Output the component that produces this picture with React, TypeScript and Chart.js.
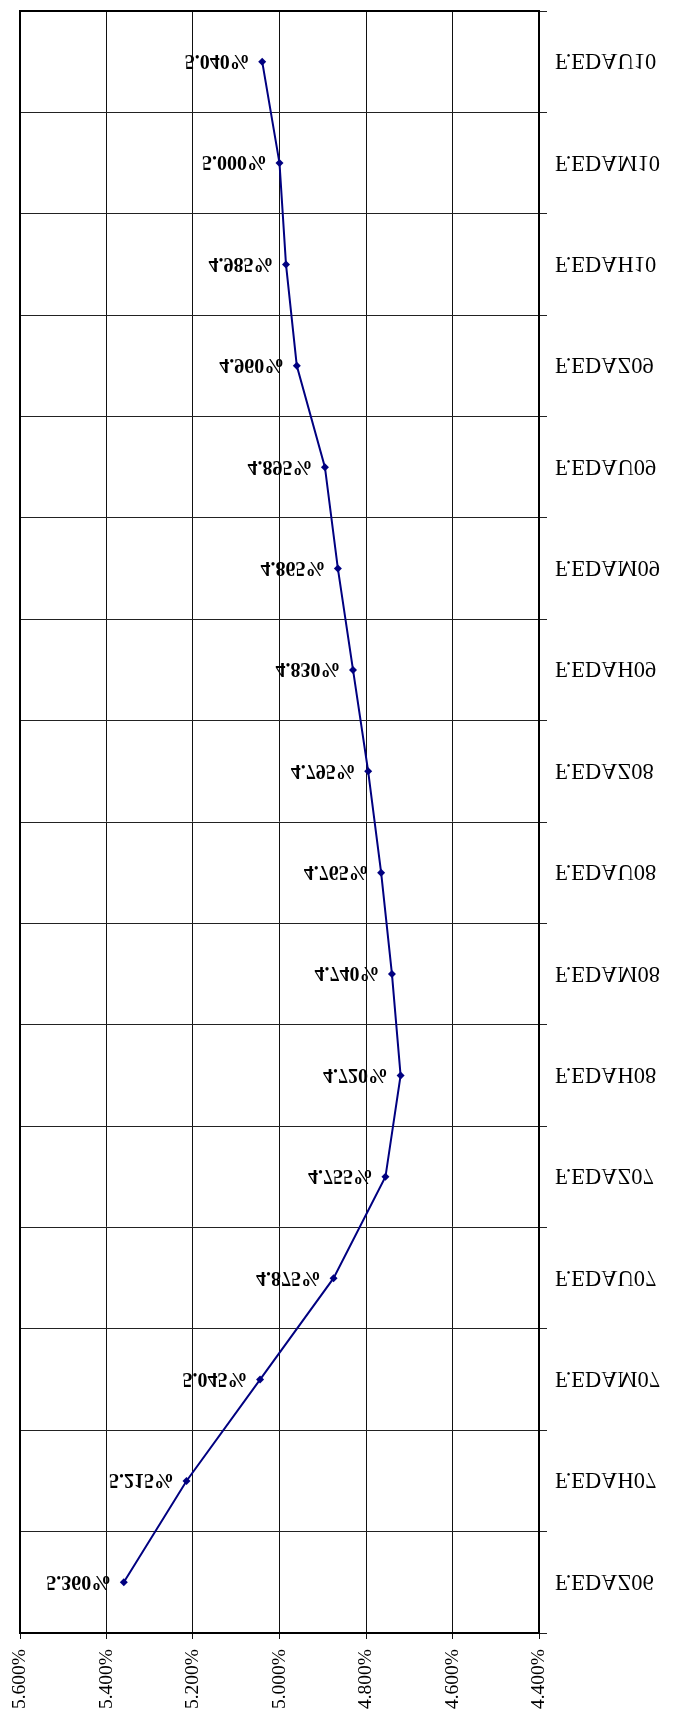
import React, { useEffect, useRef } from 'react';
import { Chart, registerables } from 'chart.js';

Chart.register(...registerables);

const categories = [
  'F.EDAZ06', 'F.EDAH07', 'F.EDAM07', 'F.EDAU07', 'F.EDAZ07', 'F.EDAH08', 'F.EDAM08', 'F.EDAU08',
  'F.EDAZ08', 'F.EDAH09', 'F.EDAM09', 'F.EDAU09', 'F.EDAZ09', 'F.EDAH10', 'F.EDAM10', 'F.EDAU10',
];
const rates = [
  5.36, 5.215, 5.045, 4.875, 4.755, 4.72, 4.74, 4.765,
  4.795, 4.83, 4.865, 4.895, 4.96, 4.985, 5.0, 5.04,
];
const axisMin = 4.4;
const axisMax = 5.6;
const axisStep = 0.2;

const SERIF = '"Liberation Serif", "Times New Roman", serif';

function drawFlipped(ctx: CanvasRenderingContext2D, text: string, x: number, y: number, align: CanvasTextAlign, font: string, capH: number) {
  ctx.save();
  ctx.translate(x, y);
  ctx.scale(1, -1);
  ctx.font = font;
  ctx.textAlign = align;
  ctx.textBaseline = 'alphabetic';
  ctx.fillStyle = '#000';
  ctx.fillText(text, 0, capH / 2);
  ctx.restore();
}

const borderPlugin = {
  id: 'plotBorder',
  beforeDatasetsDraw(chart: any) {
    const { ctx, chartArea } = chart;
    ctx.save();
    ctx.strokeStyle = '#000';
    ctx.lineWidth = 2;
    ctx.strokeRect(chartArea.left, chartArea.top, chartArea.right - chartArea.left, chartArea.bottom - chartArea.top);
    ctx.restore();
  },
};

const labelsPlugin = {
  id: 'flippedLabels',
  afterDatasetsDraw(chart: any) {
    const ctx: CanvasRenderingContext2D = chart.ctx;
    const meta = chart.getDatasetMeta(0);
    meta.data.forEach((pt: any, i: number) => {
      const v = rates[i];
      drawFlipped(ctx, v.toFixed(3) + '%', pt.x - 12.5, pt.y, 'right', `bold 20px ${SERIF}`, 13.2);
    });
    const yScale = chart.scales.y;
    const right = chart.chartArea.right;
    categories.forEach((c, i) => {
      const y = yScale.getPixelForValue(i);
      drawFlipped(ctx, c, right + 16, y, 'left', `22.5px ${SERIF}`, 14.9);
    });
  },
};

export default function App() {
  const ref = useRef<HTMLCanvasElement | null>(null);
  useEffect(() => {
    document.body.style.margin = '0';
    if (!ref.current) return;
    const chart = new Chart(ref.current, {
      type: 'line',
      data: {
        labels: categories,
        datasets: [
          {
            data: rates,
            borderColor: '#000080',
            backgroundColor: '#000080',
            borderWidth: 2,
            pointStyle: 'rectRot',
            pointRadius: 4,
            pointBorderWidth: 0,
            pointBackgroundColor: '#000080',
            tension: 0,
            fill: false,
          },
        ],
      },
      options: {
        indexAxis: 'y',
        responsive: false,
        animation: false,
        layout: { padding: { left: 20, top: 11, right: 0, bottom: 0 } },
        plugins: { legend: { display: false }, tooltip: { enabled: false } },
        scales: {
          x: {
            type: 'linear',
            position: 'bottom',
            reverse: true,
            min: axisMin,
            max: axisMax,
            ticks: {
              stepSize: axisStep,
              autoSkip: false,
              minRotation: 90,
              maxRotation: 90,
              padding: 10,
              color: '#000',
              font: { family: SERIF, size: 19.5 },
              callback: (v: any) => Number(v).toFixed(3) + '%',
            },
            grid: { color: '#111', lineWidth: 1, tickLength: 6 },
            border: { color: '#000', width: 2 },
            afterFit: (s: any) => {
              s.height = 100;
            },
          },
          y: {
            type: 'category',
            position: 'right',
            reverse: true,
            offset: true,
            ticks: { display: false },
            grid: { offset: true, color: '#222', lineWidth: 1, tickLength: 8 },
            border: { color: '#000', width: 2 },
            afterFit: (s: any) => {
              s.width = 139;
            },
          },
        },
      } as any,
      plugins: [borderPlugin, labelsPlugin],
    });
    return () => chart.destroy();
  }, []);
  return (
    <div style={{ width: 678, height: 1733 }}>
      <canvas ref={ref} width={678} height={1733} style={{ display: 'block', width: 678, height: 1733 }} />
    </div>
  );
}
